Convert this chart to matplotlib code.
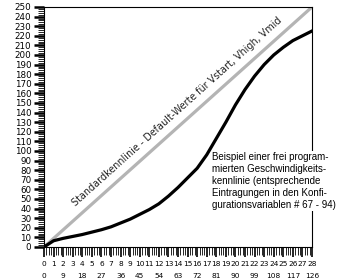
import numpy as np
import matplotlib.pyplot as plt
from matplotlib.ticker import MultipleLocator

# stufen 0..28 (Konfigurationsvariablen)
stufen = list(range(29))
kennlinie = [0, 6.5, 9, 11, 13, 15.5, 18, 21, 25, 29, 34, 39, 45, 53, 62, 72,
             82, 96, 113, 130, 148, 164, 178, 190, 200, 208, 215, 220, 225]
standard_x = [0, 28]
standard_y = [0, 250]
kmh_pos = stufen[::2]
kmh_labels = [str(round(s * 4.5)) for s in kmh_pos]

fig = plt.figure(figsize=(3.63, 2.79), dpi=100)
ax = fig.add_axes([44 / 363, 32 / 279, 268 / 363, 240 / 279])
ax.set_xlim(0, 28)
ax.set_ylim(0, 250)

ax.plot(standard_x, standard_y, color='#b4b4b4', lw=2.3, solid_capstyle='butt')
ax.plot(stufen, kennlinie, color='black', lw=2.3)

ax.text(3.4, 41, "Standardkennlinie - Default-Werte für Vstart, Vhigh, Vmid",
        fontsize=6.9, color='#222222', rotation=np.degrees(np.arctan2(250, 28)),
        transform_rotates_text=True, rotation_mode='anchor',
        ha='left', va='bottom')

ax.text(17.6, 99, "Beispiel einer frei program-\nmierten Geschwindigkeits-\n"
        "kennlinie (entsprechende\nEintragungen in den Konfi-\n"
        "gurationsvariablen # 67 - 94)",
        fontsize=7, family='Liberation Sans', ha='left', va='top',
        linespacing=1.25, clip_on=False, zorder=5,
        bbox=dict(facecolor='white', edgecolor='none', pad=1))

ax.yaxis.set_major_locator(MultipleLocator(10))
ax.yaxis.set_minor_locator(MultipleLocator(2))
ax.xaxis.set_minor_locator(MultipleLocator(0.25))
ax.set_xticks(stufen)
ax.set_xticklabels([str(s) for s in stufen])

ax.tick_params(axis='y', which='major', length=7, width=1.8, labelsize=6.3, pad=2)
ax.tick_params(axis='y', which='minor', length=4, width=0.6)
ax.tick_params(axis='x', which='major', length=7, width=1.2, labelsize=5.3, pad=3)
ax.tick_params(axis='x', which='minor', length=6, width=0.6)

sec = ax.secondary_xaxis('bottom')
sec.set_xticks(kmh_pos)
sec.set_xticklabels(kmh_labels)
sec.tick_params(axis='x', length=0, labelsize=5.3, pad=19)
sec.spines['bottom'].set_visible(False)

for sp in ax.spines.values():
    sp.set_linewidth(0.8)

fig.savefig("out.png", dpi=100)
